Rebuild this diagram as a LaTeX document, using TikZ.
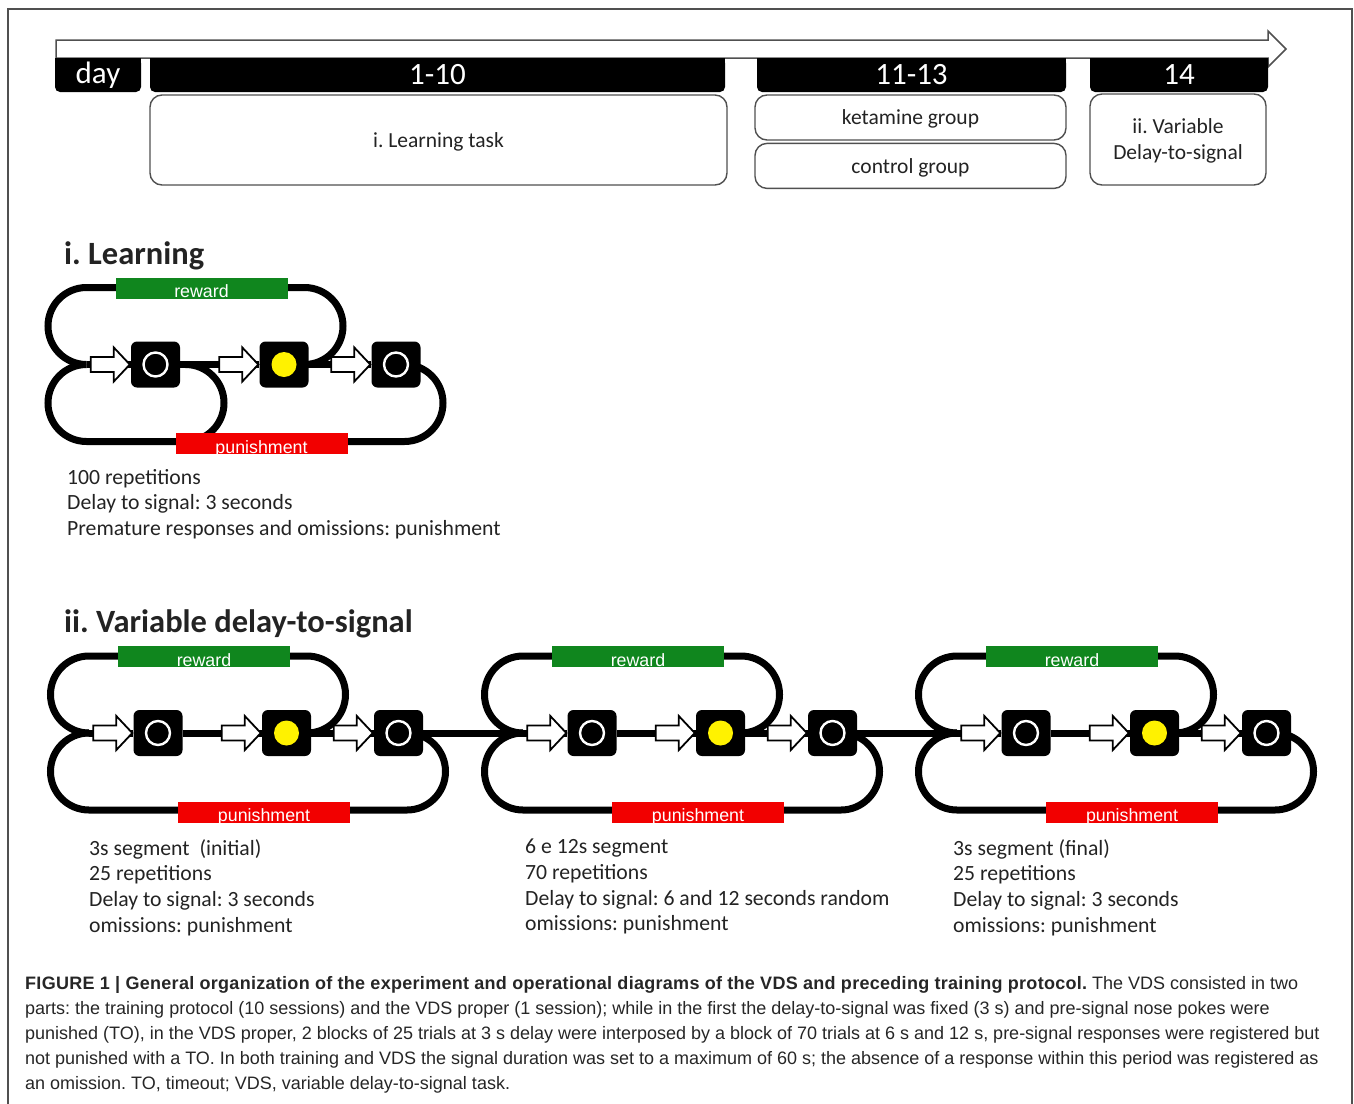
\documentclass[tikz,border=0pt]{standalone}
\usepackage{fontspec}
\setmainfont{Carlito}
\newfontfamily\capfont{Liberation Sans}
\newfontfamily\capbold{Liberation Sans Bold}[LetterSpace=1.6]
\usetikzlibrary{positioning}
\frenchspacing

\definecolor{rewardgreen}{RGB}{16,134,30}
\definecolor{punishred}{RGB}{242,0,0}
\definecolor{inkgray}{RGB}{35,35,35}
\definecolor{edgegray}{RGB}{80,80,80}

\tikzset{
  track/.style={line width=7pt},
  looptrack/.style={track, rounded corners=38.5pt},
  pokebox/.style={fill=black, rounded corners=6pt, minimum width=49pt, minimum height=46pt, inner sep=0pt},
  ring/.style={circle, draw=white, line width=2.4pt, minimum size=24pt, inner sep=0pt},
  lamp/.style={circle, fill=yellow, minimum size=25pt, inner sep=0pt},
  signalbar/.style={minimum width=172pt, minimum height=21pt, inner sep=0pt, text=white,
    text height=19pt, text depth=0pt, font=\capfont\fontsize{17.8}{17.8}\selectfont},
  rewardbar/.style={signalbar, fill=rewardgreen},
  punishbar/.style={signalbar, fill=punishred},
  hollow arrow/.pic={
    \filldraw[fill=white, line width=1.8pt] (0,-7.5) -- (23,-7.5) -- (23,-17) -- (39,0)
      -- (23,17) -- (23,7.5) -- (0,7.5) -- cycle;},
  dayhead/.style={fill=black, text=white, rounded corners=5pt, minimum height=34pt,
    inner sep=0pt, font=\fontsize{31}{31}\selectfont},
  phasebox/.style={draw=edgegray, line width=1.4pt, fill=white, rounded corners=12pt,
    text=inkgray, align=center, inner sep=0pt, text depth=0pt, font=\fontsize{21.5}{26}\selectfont},
  sectitle/.style={anchor=base west, inner sep=0pt, text=inkgray, font=\bfseries\fontsize{32.5}{32.5}\selectfont},
  notes/.style={anchor=north west, align=left, inner sep=0pt, text=inkgray, font=\fontsize{21.7}{25.7}\selectfont},
  captext/.style={anchor=north west, align=left, inner sep=0pt, text=black!85,
    font=\capfont\fontsize{18}{25}\selectfont}
}

% one trial loop: [extra loop], x shift, y shift, name prefix
\newcommand{\pokeunit}[4][]{%
  \begin{scope}[shift={(#2,#3)}]
    % loops
    \coordinate (#4-m) at (89,0);
    \coordinate (#4-rt) at (307,0);
    \coordinate (#4-pt) at (407,0);
    \draw[looptrack] (#4-rt) -- (345.5,0) -- (345.5,-77) -- (50.5,-77) -- (50.5,0) -- (#4-m);
    \draw[looptrack] (#4-m) -- (50.5,0) -- (50.5,77) -- (445.5,77) -- (445.5,0) -- (#4-pt);
    #1
    % holes
    \node[pokebox] (#4-s1) at (158,0) {};
    \node[pokebox] (#4-s2) at (286.5,0) {};
    \node[pokebox] (#4-s3) at (398.5,0) {};
    \draw[track] (#4-m) -- (#4-s1) -- (#4-s2) -- (#4-s3);
    \pic at ([xshift=-40pt]#4-s1.west) {hollow arrow};
    \pic at ([xshift=-40pt]#4-s2.west) {hollow arrow};
    \pic at ([xshift=-40pt]#4-s3.west) {hollow arrow};
    \node[ring] (#4-c1) at (#4-s1) {};
    \node[lamp] (#4-c2) at (#4-s2) {};
    \node[ring] (#4-c3) at (#4-s3) {};
    % outcomes
    \node[rewardbar] (#4-rw) at (204,-76.5) {reward};
    \node[punishbar] (#4-pn) at (264,79) {punishment};
  \end{scope}}

\begin{document}
\begin{tikzpicture}[x=1pt, y=-1pt]
    \useasboundingbox (0,0) rectangle (1354,1103);
    \draw[edgegray, line width=1.2pt] (8,1110) -- (8,9) -- (1352,9) -- (1352,1110);

    % Time axis
    \filldraw[fill=white, draw=edgegray, line width=1.5pt] (56,40) -- (1268,40) -- (1268,31)
      -- (1286,49) -- (1268,67) -- (1268,58) -- (56,58) -- cycle;
    \foreach \l/\r in {55/141,150/725,757/1066,1090/1268}
      \fill (\l,58) rectangle (\r,68);
    \node[dayhead, minimum width=86pt] (hday) at (98,75) {day};
    \node[dayhead, minimum width=575pt] (h110) at (437.5,75) {1-10};
    \node[dayhead, minimum width=309pt] (h1113) at (911.5,75) {11-13};
    \node[dayhead, minimum width=178pt] (h14) at (1179,75) {14};

    % Phases
    \node[phasebox, minimum width=577pt, minimum height=90pt] (task) at (438.5,140) {i. Learning task};
    \node[phasebox, minimum width=311pt, minimum height=45pt] (ket) at (910.5,117.5) {ketamine group};
    \node[phasebox, minimum width=311pt, minimum height=45pt, below=2pt of ket] (ctl) {control group};
    \node[phasebox, minimum width=176pt, minimum height=91pt] (vds) at (1178,139.5) {ii. Variable\\Delay-to-signal};

    % i. Learning
    \node[sectitle] (tlearn) at (64,264) {i. Learning};
    \pokeunit[{\draw[looptrack] (188,0) -- (226.5,0) -- (226.5,77) -- (188,77);}]{-2.5}{364.5}{L}
    \node[notes] (nlearn) at (67,469) {100 repetitions\\Delay to signal: 3 seconds\\Premature responses and omissions: punishment};

    % ii. Variable delay-to-signal
    \node[sectitle] (tvds) at (64,632) {ii. Variable delay-to-signal};
    \pokeunit{0}{733}{V1}
    \pokeunit{434}{733}{V2}
    \pokeunit{868}{733}{V3}
    \draw[track] (V1-s3) -- (V2-m);
    \draw[track] (V2-s3) -- (V3-m);
    \node[notes] (nv1) at (89,839) {3s segment\ \ (initial)\\25 repetitions\\Delay to signal: 3 seconds\\omissions: punishment};
    \node[notes] (nv2) at (525,839) {6 e 12s segment\\70 repetitions\\Delay to signal: 6 and 12 seconds random\\omissions: punishment};
    \node[notes] (nv3) at (953,839) {3s segment (final)\\25 repetitions\\Delay to signal: 3 seconds\\omissions: punishment};

    % Caption
    \node[captext] (cap) at (25,976) {{\capbold FIGURE 1 | General organization of the experiment and operational diagrams of the VDS and preceding training protocol.} The VDS consisted in two\\
      parts: the training protocol (10 sessions) and the VDS proper (1 session); while in the first the delay-to-signal was fixed (3 s) and pre-signal nose pokes were\\
      punished (TO), in the VDS proper, 2 blocks of 25 trials at 3 s delay were interposed by a block of 70 trials at 6 s and 12 s, pre-signal responses were registered but\\
      not punished with a TO. In both training and VDS the signal duration was set to a maximum of 60 s; the absence of a response within this period was registered as\\
      an omission. TO, timeout; VDS, variable delay-to-signal task.};
\end{tikzpicture}
\end{document}
